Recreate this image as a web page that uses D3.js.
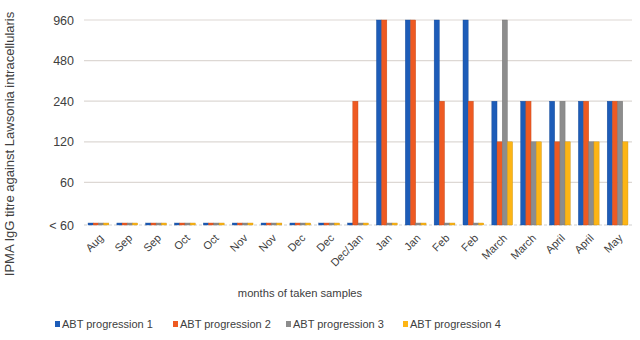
<!DOCTYPE html>
<html>
<head>
<meta charset="utf-8">
<script src="https://cdn.jsdelivr.net/npm/d3@7"></script>
<style>
  body { margin: 0; background: #fff; }
  svg { display: block; font-family: "Liberation Sans", Arial, sans-serif; }
</style>
</head>
<body>
<svg id="chart" width="640" height="340"></svg>
<script>
// Sampling months (x categories)
const months = ["Aug", "Sep", "Sep", "Oct", "Oct", "Nov", "Nov", "Dec", "Dec", "Dec/Jan",
                "Jan", "Jan", "Feb", "Feb", "March", "March", "April", "April", "May"];

// IPMA IgG titres; 30 stands for "< 60" (below detection)
const progression1 = [30, 30, 30, 30, 30, 30, 30, 30, 30, 30, 960, 960, 960, 960, 240, 240, 240, 240, 240];
const progression2 = [30, 30, 30, 30, 30, 30, 30, 30, 30, 240, 960, 960, 240, 240, 120, 240, 120, 240, 240];
const progression3 = [30, 30, 30, 30, 30, 30, 30, 30, 30, 30, 30, 30, 30, 30, 960, 120, 240, 120, 240];
const progression4 = [30, 30, 30, 30, 30, 30, 30, 30, 30, 30, 30, 30, 30, 30, 120, 120, 120, 120, 120];

const seriesNames = ["ABT progression 1", "ABT progression 2", "ABT progression 3", "ABT progression 4"];
const seriesColors = ["#1d5cb8", "#ee5a22", "#8d8d8d", "#fdb515"];

const tickValues = [30, 60, 120, 240, 480, 960];
const tickLabels = ["< 60", "60", "120", "240", "480", "960"];

const allSeries = [progression1, progression2, progression3, progression4];

const svg = d3.select("#chart");
const margin = { left: 84, right: 8, top: 20, bottom: 115 };
const width = 640, height = 340;

const x = d3.scaleBand()
  .domain(d3.range(months.length))
  .range([margin.left, width - margin.right])
  .paddingInner(0.28)
  .paddingOuter(0.14);

const xs = d3.scaleBand()
  .domain(d3.range(allSeries.length))
  .range([0, x.bandwidth()]);

const y = d3.scaleLog()
  .base(2)
  .domain([29, 960])
  .range([height - margin.bottom, margin.top]);

// gridlines
svg.append("g")
  .selectAll("line")
  .data(tickValues.slice(1))
  .join("line")
  .attr("x1", margin.left).attr("x2", width - margin.right)
  .attr("y1", d => y(d)).attr("y2", d => y(d))
  .attr("stroke", "#ddd8d4").attr("stroke-width", 1.2);

// bottom axis line
svg.append("line")
  .attr("x1", margin.left).attr("x2", width - margin.right)
  .attr("y1", y(29)).attr("y2", y(29))
  .attr("stroke", "#cfcfcf").attr("stroke-width", 1)
  .attr("stroke-dasharray", "3,2");

// y axis
const yAxis = d3.axisLeft(y)
  .tickValues(tickValues)
  .tickFormat((d, i) => tickLabels[i])
  .tickSize(0)
  .tickPadding(10);
const yG = svg.append("g")
  .attr("transform", `translate(${margin.left},0)`)
  .call(yAxis);
yG.select(".domain").remove();
yG.selectAll("text")
  .attr("x", -10)
  .attr("text-anchor", "end")
  .style("font-size", "12.5px")
  .style("fill", "#404040");
yG.selectAll(".tick").filter(d => d === 30)
  .attr("transform", `translate(0,${y(29) + 1})`);

// bars
const groups = svg.append("g")
  .selectAll("g")
  .data(months.map((m, i) => i))
  .join("g")
  .attr("transform", i => `translate(${x(i)},0)`);

groups.selectAll("rect")
  .data(i => allSeries.map((s, k) => ({ k, v: s[i] })))
  .join("rect")
  .attr("x", d => xs(d.k))
  .attr("width", xs.bandwidth())
  .attr("y", d => y(d.v))
  .attr("height", d => y(29) - y(d.v))
  .attr("fill", d => seriesColors[d.k])
  .attr("stroke", d => d3.color(seriesColors[d.k]).darker(0.6))
  .attr("stroke-width", 0.4);

// x axis labels, rotated
const xAxis = d3.axisBottom(x)
  .tickFormat(i => months[i])
  .tickSize(0)
  .tickPadding(0);
const xG = svg.append("g")
  .attr("transform", `translate(0,${y(29)})`)
  .call(xAxis);
xG.select(".domain").remove();
xG.selectAll("text")
  .attr("y", 0)
  .attr("x", 0)
  .attr("dy", "0.35em")
  .attr("text-anchor", "end")
  .attr("transform", "translate(3,11) rotate(-45)")
  .style("font-size", "11px")
  .style("fill", "#404040");

// axis titles
svg.append("text")
  .attr("transform", `translate(14,${144}) rotate(-90)`)
  .attr("text-anchor", "middle")
  .style("font-size", "13px")
  .style("fill", "#404040")
  .text("IPMA IgG titre against Lawsonia intracellularis");

svg.append("text")
  .attr("x", 300).attr("y", 297)
  .attr("text-anchor", "middle")
  .style("font-size", "11.2px")
  .style("fill", "#404040")
  .text("months of taken samples");

// legend
const legendX = [55, 173, 286, 403];
const legend = svg.append("g")
  .selectAll("g")
  .data(seriesNames)
  .join("g")
  .attr("transform", (d, i) => `translate(${legendX[i]},328)`);
legend.append("rect")
  .attr("x", 0).attr("y", -7).attr("width", 5).attr("height", 6)
  .attr("fill", (d, i) => seriesColors[i]);
legend.append("text")
  .attr("x", 7).attr("y", 0)
  .style("font-size", "11px")
  .style("fill", "#404040")
  .text(d => d);
</script>
</body>
</html>
